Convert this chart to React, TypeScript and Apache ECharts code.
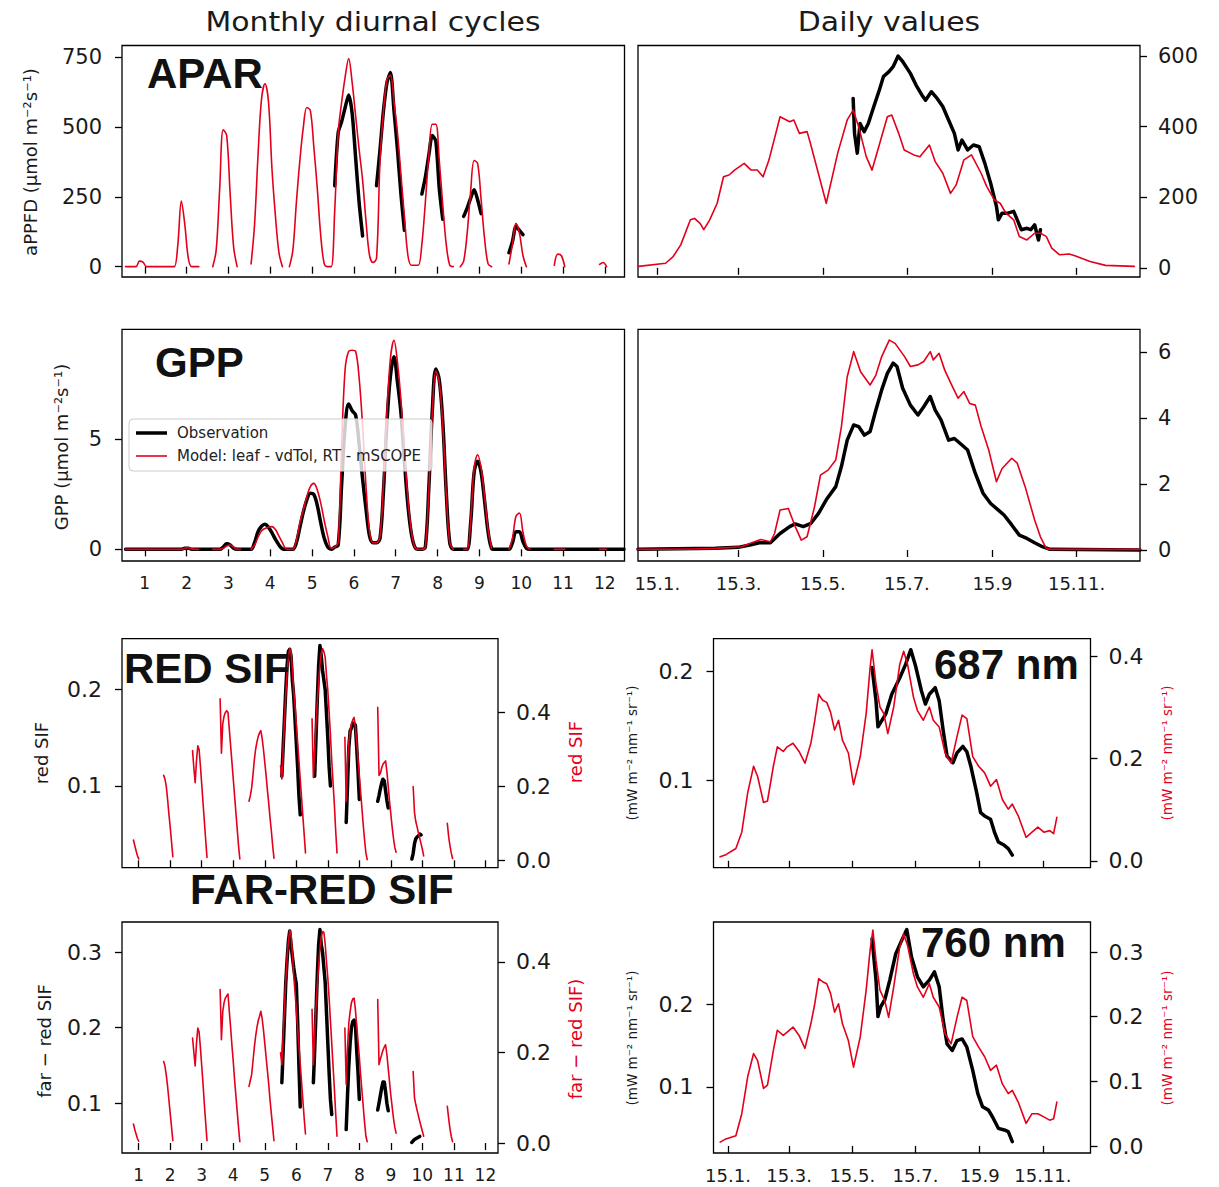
import React, { useEffect, useRef } from "react";
import * as echarts from "echarts";

// ---------- axes / categories ----------
const MONTHS = [1, 2, 3, 4, 5, 6, 7, 8, 9, 10, 11, 12];
const HOURS_2H = [1, 3, 5, 7, 9, 11, 13, 15, 17, 19, 21, 23];
const DATE_TICKS = [15, 74, 135, 196, 258, 319];
const DATE_LABELS = ["15.1.", "15.3.", "15.5.", "15.7.", "15.9", "15.11."];
const N = null;

// ---------- monthly diurnal cycles (2-hourly, h = 1,3,...,23) ----------
const APAR_MOD_MONTHLY = [
  [0, 0, 0, 0, 20, 16, 0, 0, 0, 0, 0, 0],
  [0, 0, 0, 80, 235, 150, 30, 0, 0, 0, N, N],
  [N, 0, 60, 280, 490, 470, 260, 70, 0, N, N, N],
  [10, 150, 400, 600, 655, 590, 350, 180, 50, 0, N, 0],
  [60, 230, 380, 500, 570, 560, 430, 280, 110, 10, 0, 0],
  [200, 480, 590, 680, 745, 660, 540, 420, 310, 160, 40, 15],
  [30, 380, 560, 670, 685, 590, 480, 330, 180, 40, 5, 5],
  [5, 80, 230, 400, 510, 510, 380, 220, 80, 5, 0, N],
  [0, 20, 120, 270, 380, 370, 240, 100, 10, 0, N, N],
  [N, N, 10, 80, 155, 120, 40, 0, N, N, N, N],
  [N, N, N, 5, 45, 40, 0, N, N, N, N, N],
  [N, N, N, N, 8, 15, 0, N, N, N, N, N],
];
const APAR_OBS_MONTHLY = [
  [N, N, N, N, N, N, N, N, N, N, N, N],
  [N, N, N, N, N, N, N, N, N, N, N, N],
  [N, N, N, N, N, N, N, N, N, N, N, N],
  [N, N, N, N, N, N, N, N, N, N, N, N],
  [N, N, N, N, N, N, N, N, N, N, N, N],
  [290, 480, 520, 570, 615, 550, 390, 230, 110, N, N, N],
  [290, 420, 560, 660, 695, 560, 420, 260, 130, N, N, N],
  [N, 260, 320, 400, 470, 450, 280, 170, N, N, N, N],
  [N, 180, 210, 245, 275, 240, 190, N, N, N, N, N],
  [N, N, 50, 90, 145, 130, 115, N, N, N, N, N],
  [N, N, N, N, N, N, N, N, N, N, N, N],
  [N, N, N, N, N, N, N, N, N, N, N, N],
];
const GPP_OBS_MONTHLY = [
  [0, 0, 0, 0, 0, 0, 0, 0, 0, 0, 0, 0],
  [0, 0, 0, 0, 0, 0.05, 0.05, 0, 0, 0, 0, 0],
  [0, 0, 0, 0, 0.1, 0.25, 0.2, 0.05, 0, 0, 0, 0],
  [0, 0.3, 0.8, 1.05, 1.14, 1.0, 0.75, 0.45, 0.2, 0.02, 0, 0],
  [0, 0.3, 1.0, 1.7, 2.25, 2.55, 2.5, 2.0, 1.2, 0.5, 0.1, 0],
  [0.1, 0.2, 3.0, 5.6, 6.6, 6.3, 6.1, 4.8, 3.2, 1.8, 0.6, 0.3],
  [0.3, 0.5, 2.7, 5.8, 7.9, 8.75, 7.6, 6.2, 4.0, 2.0, 0.7, 0.1],
  [0, 0, 0.1, 2.8, 6.3, 8.2, 7.7, 5.8, 2.6, 0.3, 0, 0],
  [0, 0, 0, 1.2, 3.5, 4.0, 3.5, 2.2, 0.8, 0.05, 0, 0],
  [0, 0, 0, 0.3, 0.8, 0.8, 0.35, 0.05, 0, 0, 0, 0],
  [0, 0, 0, 0, 0, 0, 0, 0, 0, 0, 0, 0],
  [0, 0, 0, 0, 0, 0, 0, 0, 0, 0, 0, 0],
];
const GPP_MOD_MONTHLY = [
  [0, 0, 0, 0, 0, 0, 0, 0, 0, 0, 0, 0],
  [0, 0, 0, 0, 0, 0.05, 0.08, 0.02, 0, 0, N, N],
  [N, 0, 0, 0, 0.05, 0.15, 0.2, 0.1, 0, 0, N, N],
  [0, 0.2, 0.55, 0.85, 0.95, 1.0, 1.03, 0.9, 0.6, 0.3, 0.02, 0],
  [0, 0.4, 1.2, 1.8, 2.4, 2.85, 3.0, 2.7, 2.1, 1.3, 0.6, 0.05],
  [0.1, 0.3, 4.8, 8.2, 9.0, 9.05, 9.0, 7.8, 5.6, 2.8, 0.8, 0.3],
  [0.3, 0.6, 3.0, 6.3, 8.7, 9.5, 8.5, 6.8, 4.5, 2.3, 0.8, 0.1],
  [0, 0, 0.1, 2.7, 6.2, 8.1, 7.6, 5.6, 2.5, 0.3, 0, N],
  [N, 0, 0, 1.3, 3.7, 4.3, 3.7, 2.4, 0.9, 0.05, N, N],
  [N, N, 0, 0.5, 1.5, 1.65, 0.8, 0.15, 0, N, N, N],
  [N, N, N, 0, 0, 0, 0, N, N, N, N, N],
  [N, N, N, N, 0, 0, 0, N, N, N, N, N],
];
// SIF monthly: [start hour, hourly values] per month
const SIF_RED_MOD_MONTHLY: any[] = [
  [8, [0.055, 0.04, 0.026, 0.013, 0.004]],
  [7, [0.23, 0.22, 0.2, 0.165, 0.125, 0.09, 0.05, 0.01]],
  [5, [0.297, 0.25, 0.21, 0.27, 0.31, 0.3, 0.255, 0.205, 0.155, 0.105, 0.055, 0.008]],
  [2, [0.437, 0.29, 0.37, 0.39, 0.4, 0.405, 0.4, 0.355, 0.31, 0.265, 0.22, 0.175, 0.13, 0.085, 0.04, 0.004]],
  [0, [0.16, 0.175, 0.196, 0.23, 0.27, 0.3, 0.32, 0.335, 0.345, 0.351, 0.33, 0.3, 0.265, 0.23, 0.19, 0.155, 0.115, 0.08, 0.04, 0.006]],
  [0, [0.256, 0.22, 0.3, 0.38, 0.45, 0.51, 0.55, 0.573, 0.565, 0.52, 0.46, 0.42, 0.37, 0.32, 0.27, 0.22, 0.17, 0.12, 0.07, 0.02]],
  [0, [0.383, 0.224, 0.3, 0.37, 0.43, 0.48, 0.53, 0.56, 0.573, 0.565, 0.55, 0.5, 0.46, 0.4, 0.34, 0.27, 0.21, 0.15, 0.08, 0.02]],
  [1, [0.333, 0.16, 0.26, 0.32, 0.35, 0.37, 0.38, 0.387, 0.36, 0.32, 0.275, 0.23, 0.185, 0.14, 0.095, 0.055, 0.02, 0.002]],
  [2, [0.414, 0.23, 0.235, 0.25, 0.26, 0.265, 0.269, 0.24, 0.2, 0.16, 0.125, 0.09, 0.06, 0.035, 0.022]],
  [5, [0.2, 0.13, 0.105, 0.09, 0.075, 0.06, 0.045, 0.03, 0.012]],
  [7, [0.1, 0.065, 0.04, 0.02, 0.005]],
  null,
];
const SIF_RED_OBS_MONTHLY: any[] = [
  null, null, null, null, null,
  [1, [0.11, 0.14, 0.17, 0.2, 0.225, 0.24, 0.242, 0.235, 0.21, 0.194, 0.17, 0.145, 0.12, 0.09, 0.07]],
  [2, [0.11, 0.15, 0.19, 0.225, 0.246, 0.235, 0.22, 0.21, 0.2, 0.175, 0.15, 0.12, 0.1]],
  [2, [0.062, 0.1, 0.14, 0.157, 0.16, 0.165, 0.165, 0.163, 0.14, 0.115, 0.086]],
  [2, [0.084, 0.09, 0.097, 0.103, 0.107, 0.105, 0.095, 0.085, 0.077]],
  [4, [0.024, 0.03, 0.04, 0.045, 0.047, 0.048, 0.05, 0.049]],
  null, null,
];
const SIF_FAR_MOD_MONTHLY: any[] = [
  [8, [0.042, 0.03, 0.02, 0.01, 0.004]],
  [7, [0.18, 0.17, 0.15, 0.125, 0.095, 0.065, 0.035, 0.005]],
  [5, [0.232, 0.2, 0.17, 0.22, 0.254, 0.245, 0.21, 0.17, 0.13, 0.085, 0.045, 0.005]],
  [2, [0.339, 0.228, 0.29, 0.31, 0.32, 0.325, 0.329, 0.29, 0.255, 0.215, 0.18, 0.14, 0.105, 0.07, 0.035, 0.003]],
  [0, [0.125, 0.138, 0.151, 0.18, 0.21, 0.235, 0.255, 0.27, 0.28, 0.291, 0.275, 0.25, 0.22, 0.19, 0.16, 0.13, 0.095, 0.065, 0.035, 0.005]],
  [0, [0.199, 0.173, 0.24, 0.3, 0.36, 0.41, 0.445, 0.469, 0.46, 0.42, 0.37, 0.335, 0.295, 0.255, 0.215, 0.175, 0.135, 0.095, 0.055, 0.02]],
  [0, [0.295, 0.173, 0.24, 0.3, 0.35, 0.39, 0.43, 0.455, 0.467, 0.465, 0.44, 0.4, 0.365, 0.32, 0.27, 0.22, 0.17, 0.12, 0.065, 0.015]],
  [1, [0.254, 0.13, 0.21, 0.265, 0.29, 0.31, 0.318, 0.32, 0.295, 0.26, 0.225, 0.19, 0.15, 0.115, 0.08, 0.045, 0.015, 0.003]],
  [2, [0.317, 0.173, 0.185, 0.195, 0.205, 0.212, 0.217, 0.195, 0.165, 0.135, 0.105, 0.08, 0.055, 0.035, 0.022]],
  [5, [0.158, 0.1, 0.085, 0.072, 0.06, 0.048, 0.037, 0.026, 0.015]],
  [7, [0.081, 0.055, 0.032, 0.015, 0.003]],
  null,
];
const SIF_FAR_OBS_MONTHLY: any[] = [
  null, null, null, null, null,
  [1, [0.127, 0.17, 0.215, 0.26, 0.29, 0.315, 0.328, 0.31, 0.295, 0.28, 0.268, 0.258, 0.21, 0.15, 0.095]],
  [1, [0.127, 0.17, 0.22, 0.27, 0.31, 0.33, 0.31, 0.3, 0.28, 0.26, 0.22, 0.18, 0.14, 0.105, 0.085]],
  [2, [0.065, 0.11, 0.15, 0.18, 0.2, 0.208, 0.21, 0.205, 0.17, 0.14, 0.105]],
  [2, [0.091, 0.1, 0.11, 0.12, 0.128, 0.128, 0.115, 0.1, 0.09]],
  [4, [0.048, 0.05, 0.052, 0.053, 0.054, 0.055, 0.056]],
  null, null,
];

// ---------- daily values: [day of year, value] ----------
const APAR_MOD_DAILY = [[1.5,4],[21,13],[26.5,32],[32,65],[39,136],[42,140],[46,126],[48.7,108],[53,136],[58.4,183],[63,258],[67,263],[71,277],[78,296],[83,277],[87.5,277],[91.7,258],[96,306],[104,428],[111,414],[114,419],[118,381],[123.6,386],[126,353],[137.5,183],[145.8,325],[152.7,419],[157,447],[161,400],[166.5,315],[170.7,277],[176.3,353],[181.8,428],[185,433],[190,381],[194,334],[201,320],[205.4,315],[212.3,348],[216.5,301],[222,268],[227.6,211],[231.7,235],[237.3,306],[242.8,320],[249.8,268],[253.9,230],[259.5,192],[263.6,183],[267.8,155],[273.4,136],[277.5,89],[283,79],[288.6,98],[292.8,98],[297,89],[301,56],[306.7,37],[313.6,39],[317.8,34],[328.8,18],[340,7],[360.8,4]];
const APAR_OBS_DAILY = [[157,480],[158,381],[160,325],[162,409],[165,386],[168,409],[172,457],[176,504],[179,542],[183,556],[186,570],[189.6,600],[193,584],[198.5,551],[202.6,518],[206.8,490],[209.5,475],[213.7,499],[217.9,480],[222,457],[226.2,419],[230.4,381],[233.1,334],[235.9,362],[240,334],[244.2,348],[248.4,343],[252.5,296],[256.7,240],[260.9,174],[262.3,136],[265,155],[269.2,155],[273.4,160],[276,136],[278.9,108],[283,112],[285.8,108],[288.6,122],[291.4,79],[292.8,108]];
const GPP_MOD_DAILY = [[1,0.02],[40,0.03],[57,0.05],[76,0.1],[82,0.2],[90,0.32],[97,0.25],[100,0.5],[104,1.21],[110,1.26],[115,0.71],[119.4,0.3],[123.6,0.4],[129,1.31],[133.3,2.27],[138.8,2.42],[144.4,2.73],[148.5,3.74],[152.7,5.25],[157.4,6.01],[162.4,5.4],[169.3,5.0],[173.5,5.3],[177.7,5.86],[183.2,6.36],[187.4,6.26],[194.3,5.86],[198.5,5.56],[204,5.61],[208.2,5.71],[212.9,6.01],[215.1,5.76],[219.3,5.96],[223.4,5.45],[229,4.95],[233.1,4.6],[237.3,4.8],[241.5,4.44],[245.6,4.39],[249.8,3.74],[255.3,3.03],[260.9,2.07],[265,2.47],[272,2.78],[276,2.63],[281.7,1.92],[288.6,0.91],[292.8,0.4],[297,0.05],[300,0.02],[365,0.02]];
const GPP_OBS_DAILY = [[1,0.02],[57,0.05],[73.6,0.08],[82,0.15],[89,0.22],[97,0.22],[104,0.5],[111,0.71],[115,0.79],[120.8,0.71],[126.4,0.81],[131.9,1.11],[137.5,1.52],[144.4,1.92],[148.5,2.53],[152.7,3.33],[157.4,3.79],[161,3.74],[165.2,3.48],[169.3,3.59],[173.5,4.24],[177.7,4.85],[181.8,5.35],[186,5.66],[188.8,5.56],[192.9,4.9],[198.5,4.39],[204,4.09],[208.2,4.34],[212.9,4.65],[216.5,4.24],[220.7,3.94],[226.2,3.33],[230.4,3.38],[235.9,3.18],[240,3.03],[245.6,2.32],[251.2,1.72],[256.7,1.41],[262.3,1.21],[266.4,1.06],[272,0.76],[277.5,0.45],[283,0.35],[288.6,0.22],[294.2,0.1],[299.7,0.02],[365,0.0]];
const SIF687_MOD_DAILY = [[7.4,.0077],[13,.012],[22.6,.024],[28.3,.056],[34,.133],[39.7,.185],[43.6,.165],[49.3,.114],[53.1,.117],[58.8,.185],[62.6,.223],[68.3,.214],[72.1,.223],[77.8,.23],[83.6,.214],[89.3,.191],[95,.23],[98.8,.275],[102.6,.326],[106.4,.314],[110.3,.31],[114,.291],[117.9,.256],[121.7,.275],[125.5,.236],[131.2,.211],[136.2,.149],[142.7,.204],[148.4,.288],[152.2,.378],[154.1,.413],[157.9,.346],[161.7,.301],[165.5,.288],[169.3,.249],[175,.301],[180.8,.384],[184.6,.41],[188.4,.384],[194.1,.32],[197.9,.294],[203.6,.275],[209.4,.301],[213.2,.275],[218.9,.262],[224.6,.211],[230.4,.191],[236.1,.243],[241,.285],[245.6,.278],[251.3,.204],[257,.185],[262.8,.172],[268.5,.146],[274.2,.159],[279.9,.12],[285.6,.101],[289.5,.111],[295.2,.088],[302.8,.046],[308.5,.056],[314.2,.066],[319.9,.056],[325.6,.059],[329.4,.053],[332.5,.085]];
const SIF687_OBS_DAILY = [[154.1,.2035],[157.9,.173],[159.8,.149],[163.6,.155],[167.4,.161],[173.1,.179],[180.8,.194],[186.5,.2065],[191.5,.22],[196.1,.205],[201.8,.182],[205.6,.17],[209.4,.179],[215.1,.185],[218.9,.173],[222.7,.146],[226.5,.122],[232.2,.116],[236.1,.125],[241.8,.131],[245.6,.126],[249.4,.113],[255.1,.0885],[258.9,.07],[262.7,.067],[268.5,.064],[272.3,.052],[276.1,.043],[281.8,.04],[285.6,.037],[289.5,.031]];
const SIF760_MOD_DAILY = [[7.4,.006],[13,.011],[22.6,.016],[28.3,.05],[34,.107],[39.7,.143],[43.6,.132],[49.3,.089],[53.1,.094],[58.8,.148],[62.6,.179],[68.3,.171],[72.1,.176],[77.8,.184],[83.6,.171],[89.3,.151],[95,.189],[98.8,.22],[102.6,.259],[106.4,.254],[110.3,.251],[114,.236],[117.9,.207],[121.7,.22],[125.5,.189],[131.2,.163],[136.2,.122],[142.7,.169],[148.4,.241],[152.2,.303],[154.9,.334],[157.9,.287],[161.7,.241],[166.3,.225],[170.1,.199],[175,.246],[180.8,.308],[184.6,.328],[188.4,.31],[194.1,.266],[197.9,.246],[203.6,.23],[209.4,.251],[213.2,.23],[218.9,.215],[224.6,.174],[230.4,.158],[236.1,.199],[241,.23],[245.6,.225],[251.3,.169],[257,.153],[262.8,.138],[268.5,.117],[274.2,.125],[279.9,.096],[285.6,.081],[289.5,.086],[295.2,.068],[302.8,.035],[308.5,.05],[314.2,.05],[319.9,.045],[325.6,.04],[329.4,.042],[332.5,.068]];
const SIF760_OBS_DAILY = [[154.1,.279],[157.9,.229],[159.8,.185],[162.5,.197],[166.3,.205],[171.2,.229],[177,.261],[182.7,.277],[187.6,.29],[192.2,.257],[197.9,.233],[203.6,.221],[209.4,.229],[214.3,.239],[218.9,.221],[222.7,.181],[226.5,.152],[231.5,.144],[236.1,.156],[241,.158],[245.6,.148],[251.3,.12],[256.2,.092],[260.8,.076],[266.5,.072],[270.3,.064],[276,.05],[281.8,.048],[285.6,.046],[289.5,.034]];

// ---------- styling ----------
const RED = "#e3001b";
const BLACK = "#000000";
const TXT = "#1a1a1a";
const FONT = '"DejaVu Sans", sans-serif';

function monthlyGrid(rows: any[]) {
  const out: any[] = [];
  rows.forEach((row, i) => {
    row.forEach((v: any, j: number) => {
      out.push([MONTHS[i] - 0.5 + HOURS_2H[j] / 24, v === null ? "-" : v]);
    });
  });
  return out;
}
function monthlySegments(rows: any[]) {
  const out: any[] = [];
  rows.forEach((seg, i) => {
    if (!seg) return;
    const [start, vals] = seg;
    vals.forEach((v: number, k: number) => out.push([MONTHS[i] - 0.5 + (start + k) / 24, v]));
    out.push([MONTHS[i] - 0.5 + (start + vals.length) / 24, "-"]);
  });
  return out;
}

function line(data: any[], xi: number, yi: number, color: string, width: number, smooth: any = false) {
  return {
    type: "line", data, xAxisIndex: xi, yAxisIndex: yi, showSymbol: false, symbol: "none",
    smooth, connectNulls: false, silent: true,
    lineStyle: { color, width, join: "round", cap: "round" }, itemStyle: { color },
    z: color === RED ? 3 : 2,
  };
}

const TICK = { show: true, length: 7, lineStyle: { color: BLACK, width: 1.3 } };

function monthX(gi: number, labels: boolean, min: number, max: number) {
  return {
    type: "value", gridIndex: gi, min, max,
    axisLine: { show: false }, splitLine: { show: false },
    axisTick: { ...TICK, customValues: MONTHS },
    axisLabel: { show: labels, customValues: MONTHS, fontSize: 17, color: TXT, fontFamily: FONT, margin: 13, formatter: (v: number) => String(v) },
  };
}
function dayX(gi: number, labels: boolean) {
  return {
    type: "value", gridIndex: gi, min: 1, max: 365,
    axisLine: { show: false }, splitLine: { show: false },
    axisTick: { ...TICK, customValues: DATE_TICKS },
    axisLabel: {
      show: labels, customValues: DATE_TICKS, fontSize: 18, color: TXT, fontFamily: FONT, margin: 13,
      formatter: (v: number) => DATE_LABELS[DATE_TICKS.indexOf(Math.round(v))] || "",
    },
  };
}
function valY(gi: number, position: string, min: number, max: number, ticks: number[], fmt: (v: number) => string, fontSize = 21) {
  return {
    type: "value", gridIndex: gi, position, min, max,
    axisLine: { show: false }, splitLine: { show: false },
    axisTick: { ...TICK, customValues: ticks },
    axisLabel: { customValues: ticks, fontSize, color: TXT, fontFamily: FONT, margin: position === "left" ? 20 : 18, formatter: fmt },
  };
}
const f0 = (v: number) => String(Math.round(v));
const f1 = (v: number) => v.toFixed(1);

function txt(text: string, x: number, y: number, font: string, fill = TXT, align = "left", rotation = 0, z = 50, scaleX = 1) {
  return {
    type: "text", x, y, rotation, z, scaleX,
    style: { text, font, fill, align, verticalAlign: "middle", textAlign: align, textVerticalAlign: "middle" },
  };
}

export default function App() {
  const ref = useRef<HTMLDivElement>(null);
  useEffect(() => {
    if (!ref.current) return;
    const chart = echarts.init(ref.current, undefined, { renderer: "svg" });
    const gridBase = { show: true, borderColor: BLACK, borderWidth: 1.3, backgroundColor: "transparent" };
    const BOLD = `bold 42px "Liberation Sans", Arial, sans-serif`;
    const option: any = {
      animation: false,
      textStyle: { fontFamily: FONT },
      grid: [
        { ...gridBase, left: 122, top: 45.5, width: 502.5, height: 231.5 },
        { ...gridBase, left: 638, top: 45.5, width: 502, height: 231.5 },
        { ...gridBase, left: 122, top: 329.3, width: 502.5, height: 231.7 },
        { ...gridBase, left: 638, top: 329.3, width: 502, height: 231.7 },
        { ...gridBase, left: 122, top: 638.7, width: 376, height: 229 },
        { ...gridBase, left: 713.5, top: 638.7, width: 377, height: 229 },
        { ...gridBase, left: 122, top: 922, width: 376, height: 231 },
        { ...gridBase, left: 713.5, top: 922, width: 377, height: 231 },
      ],
      xAxis: [
        monthX(0, false, 0.456, 12.47),
        dayX(1, false),
        monthX(2, true, 0.456, 12.47),
        dayX(3, true),
        monthX(4, false, 0.47, 12.4),
        dayX(5, false),
        monthX(6, true, 0.47, 12.4),
        dayX(7, true),
      ],
      yAxis: [
        valY(0, "left", -37, 792, [0, 250, 500, 750], f0),
        valY(1, "right", -26, 630, [0, 200, 400, 600], f0),
        valY(2, "left", -0.53, 10.0, [0, 5], f0),
        valY(3, "right", -0.333, 6.687, [0, 2, 4, 6], f0),
        valY(4, "left", 0.015, 0.253, [0.1, 0.2], f1, 22),
        valY(4, "right", -0.02, 0.6, [0, 0.2, 0.4], f1, 22),
        valY(5, "left", 0.0194, 0.2301, [0.1, 0.2], f1, 22),
        valY(5, "right", -0.0135, 0.4346, [0, 0.2, 0.4], f1, 22),
        valY(6, "left", 0.034, 0.34, [0.1, 0.2, 0.3], f1, 22),
        valY(6, "right", -0.022, 0.488, [0, 0.2, 0.4], f1, 22),
        valY(7, "left", 0.0202, 0.2992, [0.1, 0.2], f1, 22),
        valY(7, "right", -0.0108, 0.3464, [0, 0.1, 0.2, 0.3], f1, 22),
      ],
      series: [
        line(monthlyGrid(APAR_OBS_MONTHLY), 0, 0, BLACK, 3.5, 0.25),
        line(monthlyGrid(APAR_MOD_MONTHLY), 0, 0, RED, 1.6, 0.35),
        line(APAR_OBS_DAILY, 1, 1, BLACK, 3.5),
        line(APAR_MOD_DAILY, 1, 1, RED, 1.6),
        line(monthlyGrid(GPP_OBS_MONTHLY), 2, 2, BLACK, 3.5, 0.35),
        line(monthlyGrid(GPP_MOD_MONTHLY), 2, 2, RED, 1.6, 0.35),
        line(GPP_OBS_DAILY, 3, 3, BLACK, 3.5),
        line(GPP_MOD_DAILY, 3, 3, RED, 1.6),
        line(monthlySegments(SIF_RED_OBS_MONTHLY), 4, 4, BLACK, 3.5),
        line(monthlySegments(SIF_RED_MOD_MONTHLY), 4, 5, RED, 1.6),
        line(SIF687_OBS_DAILY, 5, 6, BLACK, 3.5),
        line(SIF687_MOD_DAILY, 5, 7, RED, 1.6),
        line(monthlySegments(SIF_FAR_OBS_MONTHLY), 6, 8, BLACK, 3.5),
        line(monthlySegments(SIF_FAR_MOD_MONTHLY), 6, 9, RED, 1.6),
        line(SIF760_OBS_DAILY, 7, 10, BLACK, 3.5),
        line(SIF760_MOD_DAILY, 7, 11, RED, 1.6),
      ],
      graphic: [
        txt("Monthly diurnal cycles", 373, 22, `26px ${FONT}`, TXT, "center", 0, 50, 1.15),
        txt("Daily values", 889, 22, `26px ${FONT}`, TXT, "center", 0, 50, 1.15),
        txt("aPPFD (μmol m⁻²s⁻¹)", 30, 162, `18px ${FONT}`, TXT, "center", Math.PI / 2),
        txt("GPP (μmol m⁻²s⁻¹)", 61, 447, `18px ${FONT}`, TXT, "center", Math.PI / 2),
        txt("red SIF", 41, 753, `18px ${FONT}`, TXT, "center", Math.PI / 2),
        txt("red SIF", 575, 752, `18px ${FONT}`, RED, "center", Math.PI / 2),
        txt("far − red SIF", 44, 1041, `18px ${FONT}`, TXT, "center", Math.PI / 2),
        txt("far − red SIF)", 575, 1039, `18px ${FONT}`, RED, "center", Math.PI / 2),
        txt("(mW m⁻² nm⁻¹ sr⁻¹)", 632, 753, `13.5px ${FONT}`, TXT, "center", Math.PI / 2),
        txt("(mW m⁻² nm⁻¹ sr⁻¹)", 1167, 753, `13.5px ${FONT}`, RED, "center", Math.PI / 2),
        txt("(mW m⁻² nm⁻¹ sr⁻¹)", 632, 1038, `13.5px ${FONT}`, TXT, "center", Math.PI / 2),
        txt("(mW m⁻² nm⁻¹ sr⁻¹)", 1167, 1038, `13.5px ${FONT}`, RED, "center", Math.PI / 2),
        txt("APAR", 147, 73, BOLD, "#111"),
        txt("GPP", 155, 362, BOLD, "#111"),
        txt("RED SIF", 124, 668, BOLD, "#111"),
        txt("FAR-RED SIF", 190, 889, BOLD, "#111"),
        txt("687 nm", 934, 664, BOLD, "#111"),
        txt("760 nm", 921, 942, BOLD, "#111"),
        {
          type: "rect", z: 60,
          shape: { x: 129, y: 419, width: 303, height: 52, r: 4 },
          style: { fill: "rgba(255,255,255,0.8)", stroke: "#cccccc", lineWidth: 1 },
        },
        { type: "line", z: 61, shape: { x1: 136, y1: 433, x2: 167, y2: 433 }, style: { stroke: BLACK, lineWidth: 3.5 } },
        { type: "line", z: 61, shape: { x1: 136, y1: 456, x2: 167, y2: 456 }, style: { stroke: RED, lineWidth: 1.6 } },
        txt("Observation", 177, 433, `15px ${FONT}`, "#222", "left", 0, 62),
        txt("Model: leaf - vdTol, RT - mSCOPE", 177, 456, `15px ${FONT}`, "#222", "left", 0, 62),
      ],
    };
    chart.setOption(option);
    return () => chart.dispose();
  }, []);
  return (
    <div
      ref={ref}
      style={{ position: "absolute", left: 0, top: 0, width: 1219, height: 1187, background: "#ffffff" }}
    />
  );
}
